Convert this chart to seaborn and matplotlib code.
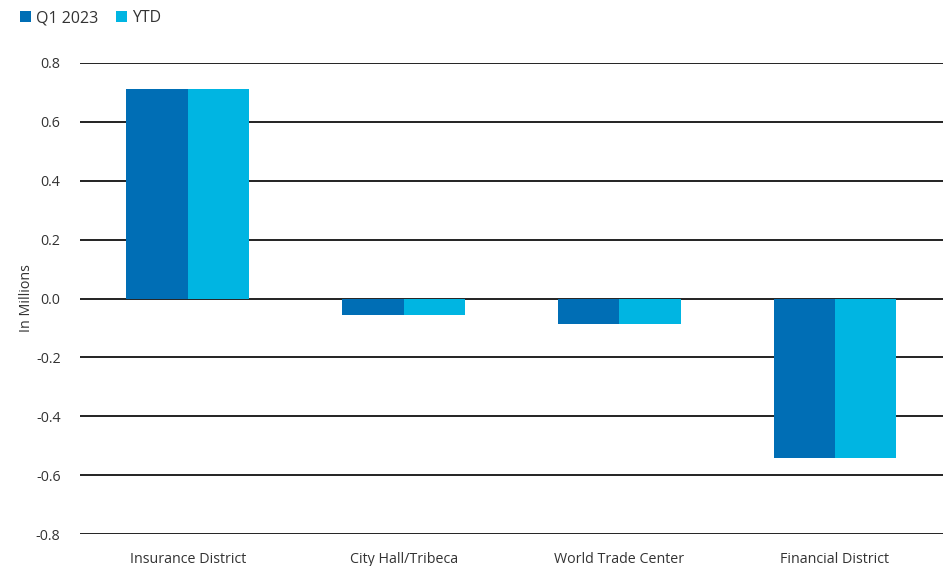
import matplotlib
matplotlib.use("Agg")
import matplotlib.pyplot as plt
import seaborn as sns
import pandas as pd
from matplotlib.patches import Patch

categories = ["Insurance District", "City Hall/Tribeca", "World Trade Center", "Financial District"]
q1_2023 = [0.71, -0.056, -0.085, -0.542]
ytd = [0.71, -0.056, -0.085, -0.542]
series_names = ["Q1 2023", "YTD"]
colors = ["#006EB5", "#00B5E2"]
yticks = [-0.8, -0.6, -0.4, -0.2, 0.0, 0.2, 0.4, 0.6, 0.8]

df = pd.DataFrame({
    "District": categories * 2,
    "Value": q1_2023 + ytd,
    "Series": [series_names[0]] * 4 + [series_names[1]] * 4,
})

sns.set_theme(style="white")
plt.rcParams["font.family"] = ["Open Sans", "DejaVu Sans"]

fig = plt.figure(figsize=(9.45, 5.66), dpi=100)
ax = fig.add_axes([0.0847, 0.0565, 0.913, 0.8322])

sns.barplot(data=df, x="District", y="Value", hue="Series", palette=colors,
            width=0.57, ax=ax, legend=False, saturation=1, edgecolor="none", zorder=3)

ax.set_ylim(-0.8, 0.8)
ax.set_yticks(yticks)
ax.set_yticklabels([f"{t:.1f}" for t in yticks])
ax.set_xlim(-0.5, 3.5)
for t in yticks:
    ax.axhline(t, color="#222222", lw=1.4, zorder=2)
for s in ax.spines.values():
    s.set_visible(False)
ax.tick_params(axis="both", length=0, labelsize=10.3, colors="#333333")
ax.tick_params(axis="x", pad=13)
ax.tick_params(axis="y", pad=14)
ax.set_xlabel("")
ax.set_ylabel("In Millions", fontsize=10.3, color="#333333", labelpad=1)

handles = [Patch(facecolor=c, edgecolor="none") for c in colors]
fig.legend(handles, series_names, loc="upper left", bbox_to_anchor=(0.006, 1.007),
           ncol=2, frameon=False, fontsize=11.5, handlelength=0.7, handleheight=0.7,
           handletextpad=0.3, columnspacing=1.1, labelcolor="#333333")

fig.savefig("out.png", dpi=100)
